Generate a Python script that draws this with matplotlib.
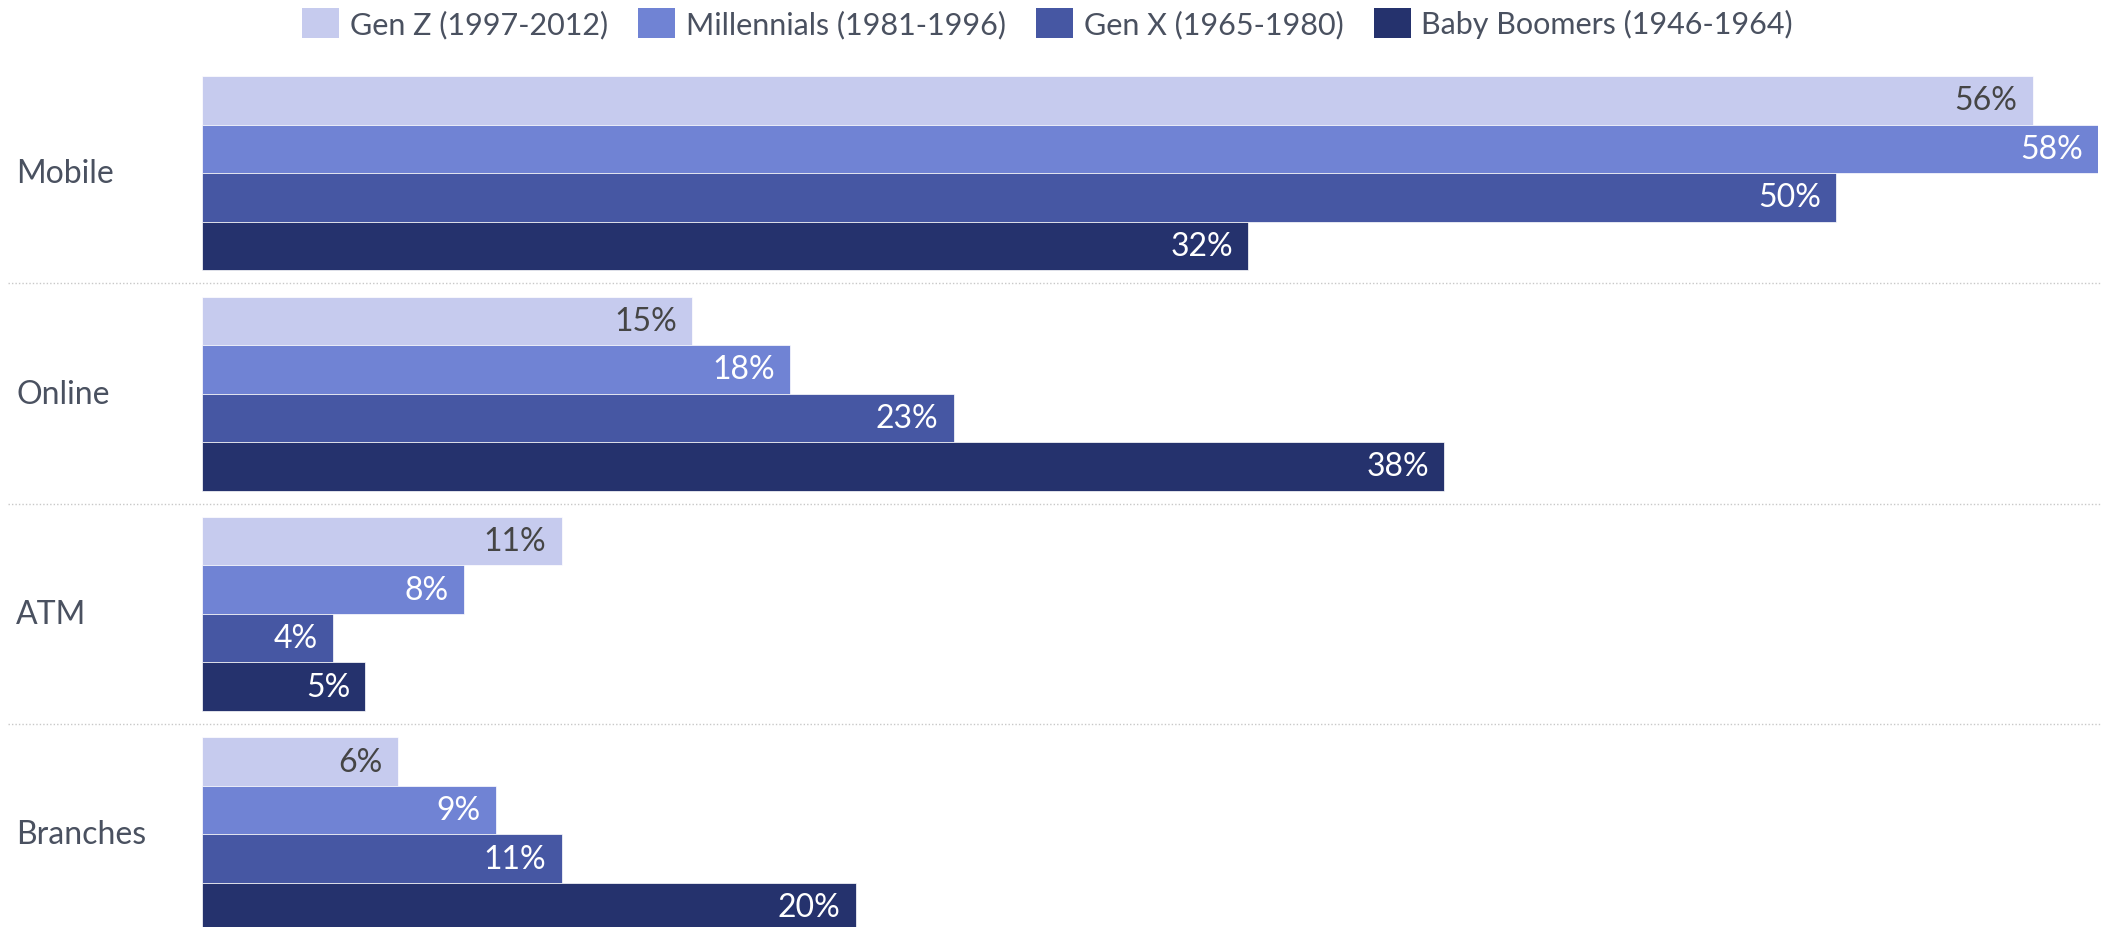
import numpy as np
import matplotlib.pyplot as plt
import matplotlib.transforms as mtransforms
from matplotlib.patches import Patch

plt.rcParams['font.family'] = ['Lato', 'DejaVu Sans']

# data
channels = ['Mobile', 'Online', 'ATM', 'Branches']
generations = ['Gen Z (1997-2012)', 'Millennials (1981-1996)',
               'Gen X (1965-1980)', 'Baby Boomers (1946-1964)']
gen_z = [56, 15, 11, 6]
millennials = [58, 18, 8, 9]
gen_x = [50, 23, 4, 11]
boomers = [32, 38, 5, 20]

colors = ['#c6cbee', '#7083d4', '#4657a3', '#25326d']
text_colors = ['#454545', 'white', 'white', 'white']
series = [gen_z, millennials, gen_x, boomers]

fig = plt.figure(figsize=(21.08, 9.28), dpi=100)
x0 = 202 / 2108
x1 = 2098 / 2108
ax = fig.add_axes([x0, 0, x1 - x0, 1])

bar_h = 0.22
ypos = np.arange(len(channels))
for j, vals in enumerate(series):
    y = ypos + (j - 1.5) * bar_h
    bars = ax.barh(y, vals, height=bar_h, color=colors[j],
                   edgecolor='white', linewidth=0.5, label=generations[j])
    for b, v in zip(bars, vals):
        ax.annotate(f'{v}%', xy=(v, b.get_y() + b.get_height() / 2),
                    xytext=(-11, 0), textcoords='offset points',
                    ha='right', va='center', fontsize=23,
                    color=text_colors[j])

ax.set_xlim(0, 58)
ax.set_ylim(3.42, -0.79)
ax.axis('off')

# category labels and dotted separators
trans = mtransforms.blended_transform_factory(fig.transFigure, ax.transData)
for i, c in enumerate(channels):
    ax.text(16 / 2108, i, c, transform=trans, ha='left', va='center',
            fontsize=23, color='#4a5160')
for i in range(len(channels) - 1):
    ax.plot([8 / 2108, 2100 / 2108], [i + 0.5, i + 0.5], transform=trans,
            color='#c8c8c8', linestyle=(0, (1, 1.5)), linewidth=1,
            clip_on=False)

handles = [Patch(facecolor=colors[j], label=generations[j]) for j in range(4)]
fig.legend(handles=handles, loc='upper center', bbox_to_anchor=(0.497, 1.0),
           ncol=4, frameon=False, fontsize=22, handlelength=1.2,
           handleheight=1.1, handletextpad=0.35, columnspacing=1.0,
           borderaxespad=0.15, borderpad=0.15, labelcolor='#4a5160')

fig.savefig('out.png', dpi=100)
